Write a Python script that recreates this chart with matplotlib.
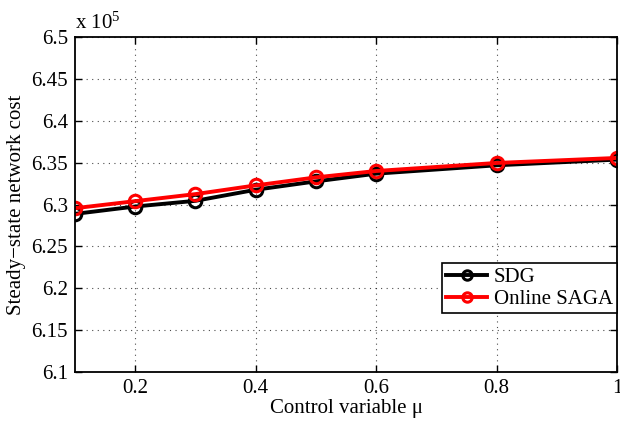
"""Steady-state network cost vs control variable mu (SDG vs Online SAGA)."""

import numpy as np
import matplotlib
matplotlib.use('Agg')
import matplotlib.pyplot as plt

plt.rcParams['font.family'] = ['Liberation Serif', 'DejaVu Serif']
plt.rcParams['mathtext.fontset'] = 'custom'
plt.rcParams['mathtext.rm'] = 'Liberation Serif'
plt.rcParams['mathtext.it'] = 'Liberation Serif:italic'

# data (cost in units of 1e5)
mu = [0.1, 0.2, 0.3, 0.4, 0.5, 0.6, 0.8, 1.0]
cost_sdg = [6.2888, 6.2976, 6.3044, 6.3176, 6.3276, 6.3368, 6.3468, 6.3536]
cost_saga = [6.2956, 6.3040, 6.3124, 6.3228, 6.3324, 6.3400, 6.3496, 6.3556]

xticks = [0.2, 0.4, 0.6, 0.8, 1.0]
xticklabels = ['0.2', '0.4', '0.6', '0.8', '1']
yticks = [6.1, 6.15, 6.2, 6.25, 6.3, 6.35, 6.4, 6.45, 6.5]
yticklabels = ['6.1', '6.15', '6.2', '6.25', '6.3', '6.35', '6.4', '6.45', '6.5']


def main():

    fig = plt.figure(figsize=(6.2, 4.22), dpi=100)
    ax = fig.add_axes([75/620, 50/422, 542/620, 335/422])

    ax.plot(mu, cost_sdg, '-o', color='k', lw=2.8, ms=9, mfc='none',
            mew=2.2, label='SDG')
    ax.plot(mu, cost_saga, '-o', color='r', lw=2.8, ms=9, mfc='none',
            mew=2.2, label='Online SAGA')

    ax.set_xlim(0.1, 1.0)
    ax.set_ylim(6.1, 6.5)
    ax.set_xticks(xticks)
    ax.set_xticklabels(xticklabels)
    ax.set_yticks(yticks)
    ax.set_yticklabels(yticklabels)

    ax.grid(True, linestyle=(0, (1, 4)), color='k', lw=0.8, alpha=0.7)
    ax.tick_params(direction='in', top=True, right=True, labelsize=15,
                   length=5, width=1, pad=5)
    for s in ax.spines.values():
        s.set_linewidth(1.3)

    ax.set_xlabel('Control variable μ', fontsize=15, labelpad=1)
    ax.set_ylabel('Steady\u2212state network cost', fontsize=15, labelpad=4)
    ax.text(0.0, 1.01, r'x 10$^{5}$', transform=ax.transAxes,
            fontsize=15, ha='left', va='bottom')

    leg = ax.legend(loc='lower right', bbox_to_anchor=(1.0, 0.176),
                    fontsize=15, frameon=True, fancybox=False,
                    borderaxespad=0, handlelength=2.0, handletextpad=0.3,
                    borderpad=0.2, labelspacing=0.1, markerscale=0.75)
    leg.get_frame().set_edgecolor('k')
    leg.get_frame().set_linewidth(1.2)
    leg.get_frame().set_alpha(1)

    fig.savefig('out.png', dpi=100)


if __name__ == '__main__':

    main()
